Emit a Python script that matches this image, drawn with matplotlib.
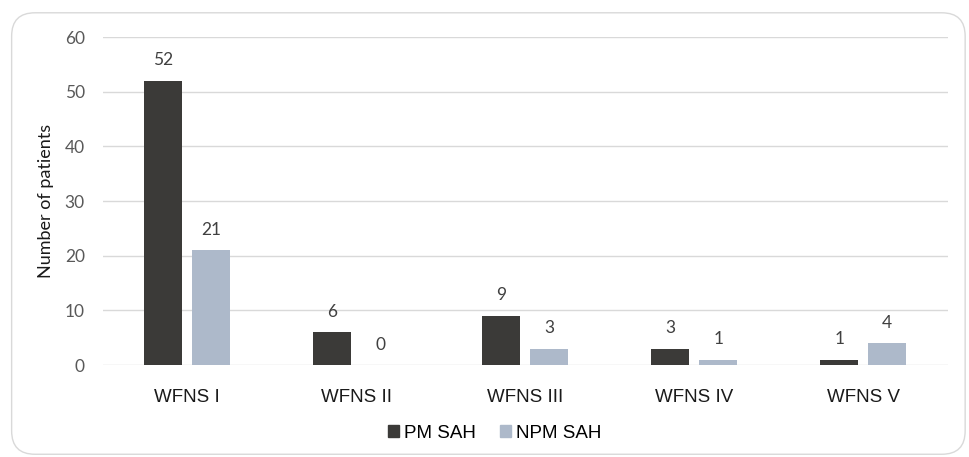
import numpy as np
import matplotlib
matplotlib.use("Agg")
import matplotlib.pyplot as plt
from matplotlib.patches import FancyBboxPatch, Patch

categories = ["WFNS I", "WFNS II", "WFNS III", "WFNS IV", "WFNS V"]
pm_sah = [52, 6, 9, 3, 1]
npm_sah = [21, 0, 3, 1, 4]
series_names = ["PM SAH", "NPM SAH"]

DARK = "#3b3a38"
LIGHT = "#adb9ca"
GRID = "#d9d9d9"
NUM_FONT = "Lato"
TXT_FONT = "Liberation Sans"

fig = plt.figure(figsize=(9.7, 4.57), dpi=100)

# rounded chart border
border = FancyBboxPatch((0.012, 0.006), 0.983, 0.966,
                        boxstyle="round,pad=0,rounding_size=0.024",
                        transform=fig.transFigure, facecolor="none",
                        edgecolor="#d9d9d9", linewidth=1.0, zorder=-1,
                        mutation_aspect=970 / 457)
fig.patches.append(border)

ax = fig.add_axes([0.106, 0.201, 0.871, 0.718])
ax.set_facecolor("none")

x = np.arange(len(categories))
w = 0.225
off = 0.142
b1 = ax.bar(x - off, pm_sah, w, color=DARK, zorder=3)
b2 = ax.bar(x + off, npm_sah, w, color=LIGHT, zorder=3)

for bars, vals in ((b1, pm_sah), (b2, npm_sah)):
    for r, v in zip(bars, vals):
        ax.annotate(str(v), (r.get_x() + r.get_width() / 2, v),
                    xytext=(0, 9), textcoords="offset points",
                    ha="center", va="bottom", fontsize=12.5,
                    family=NUM_FONT, color="#404040")

ax.set_xlim(-0.5, len(categories) - 0.5)
ax.set_ylim(0, 60)
ax.set_yticks(range(0, 61, 10))
ax.yaxis.grid(True, color=GRID, linewidth=1.0, zorder=0)
ax.set_axisbelow(True)
for s in ax.spines.values():
    s.set_visible(False)
ax.tick_params(length=0)
ax.tick_params(axis="y", pad=13, labelsize=12.5, labelcolor="#595959")
ax.tick_params(axis="x", pad=17, labelsize=13.5, labelcolor="#1a1a1a")
for t in ax.get_yticklabels():
    t.set_family(NUM_FONT)
ax.set_xticks(x)
ax.set_xticklabels(categories, family=TXT_FONT)
ax.set_ylabel("Number of patients", family=NUM_FONT, fontsize=13,
              color="#1a1a1a", labelpad=8)

handles = [Patch(color=DARK), Patch(color=LIGHT)]
fig.legend(handles, series_names, loc="center", bbox_to_anchor=(0.51, 0.052),
           ncol=2, frameon=False, handlelength=0.6, handleheight=0.6,
           handletextpad=0.25, columnspacing=1.3,
           prop={"family": TXT_FONT, "size": 13.5})

fig.savefig("out.png", dpi=100)
